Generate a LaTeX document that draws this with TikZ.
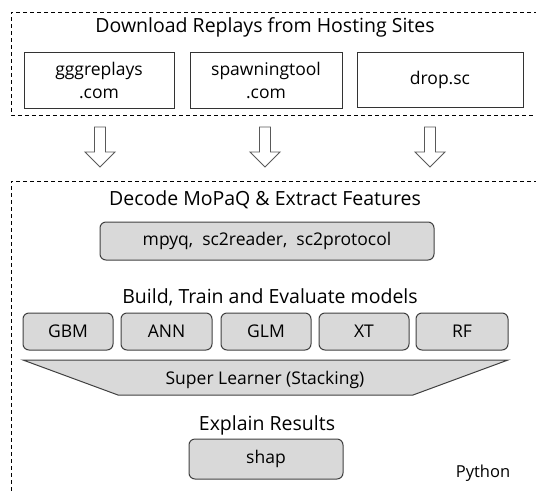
\documentclass[tikz,border=0pt]{standalone}
\usepackage{fontspec}
\setmainfont{Open Sans}
\begin{document}
\begin{tikzpicture}[x=1pt,y=-1pt,
  dashbox/.style={draw=black, line width=0.9pt, dash pattern=on 4pt off 3pt},
  sitebox/.style={draw=black!80, line width=1pt, fill=white, align=center, inner sep=0pt, font=\fontsize{17.5}{22.5}\selectfont},
  toolbox/.style={draw=black!75, line width=1pt, fill=black!15, rounded corners=6pt, align=center, inner sep=0pt, font=\fontsize{17.5}{20}\selectfont},
  heading/.style={inner sep=0pt, font=\fontsize{19.5}{22}\selectfont},
  blockarrow/.style={draw=black!65, line width=0.9pt, fill=white}
]
\useasboundingbox (0,0) rectangle (536,491);
% dashed group boxes (cut off at the picture edge)
\draw[dashbox] (545,12) -- (11,12) -- (11,115) -- (545,115);
\draw[dashbox] (545,181) -- (11,181) -- (11,500);

\node[heading] (t1) at (265,27) {Download Replays from Hosting Sites};
\node[sitebox, minimum width=150pt, minimum height=56pt] (ggg) at (99,80.5) {gggreplays\\.com};
\node[sitebox, minimum width=152pt, minimum height=56pt] (spawn) at (266,80.5) {spawningtool\\.com};
\node[sitebox, minimum width=166pt, minimum height=55pt] (drop) at (440,80) {drop.sc};

% block arrows
\foreach \cx/\nm in {100/a1,265/a2,430/a3}{
  \coordinate (\nm) at (\cx,127);
  \draw[blockarrow] (\nm) ++(-5.5,0) -- ++(11,0) -- ++(0,25) -- ++(9.5,0) -- ++(-15,15) -- ++(-15,-15) -- ++(9.5,0) -- cycle;
}

\node[heading] (t2) at (265,200) {Decode MoPaQ \& Extract Features};
\node[toolbox, minimum width=334pt, minimum height=38pt] (mpyq) at (267,241) {mpyq,\ \ sc2reader,\ \ sc2protocol};

\node[heading] (t3) at (270,297) {Build, Train and Evaluate models};
\node[toolbox, minimum width=90pt, minimum height=37pt] (gbm) at (68,331.5) {GBM};
\node[toolbox, minimum width=91pt, minimum height=37pt] (ann) at (166.5,331.5) {ANN};
\node[toolbox, minimum width=90pt, minimum height=37pt] (glm) at (266,331.5) {GLM};
\node[toolbox, minimum width=90pt, minimum height=37pt] (xt) at (364,331.5) {XT};
\node[toolbox, minimum width=92pt, minimum height=37pt] (rf) at (462,331.5) {RF};

\draw[draw=black!75, line width=1pt, fill=black!15] (23,360) -- (508,360) -- (413,395) -- (118,395) -- cycle;
\node[inner sep=0pt, font=\fontsize{17.5}{20}\selectfont] (sl) at (265,380) {Super Learner (Stacking)};

\node[heading] (t4) at (267,425) {Explain Results};
\node[toolbox, minimum width=154pt, minimum height=40pt] (shap) at (266,459) {shap};
\node[inner sep=0pt, font=\fontsize{16.5}{19}\selectfont] (py) at (483,473) {Python};
\end{tikzpicture}
\end{document}
